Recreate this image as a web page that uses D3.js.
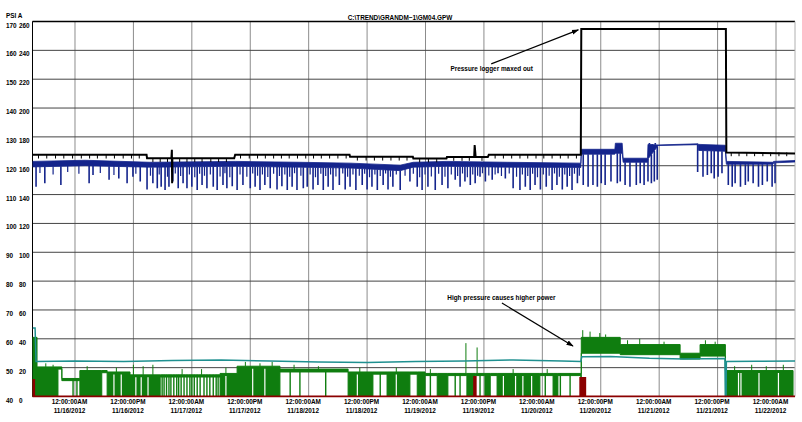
<!DOCTYPE html>
<html><head><meta charset="utf-8">
<script src="https://cdn.jsdelivr.net/npm/d3@7"></script>
<style>
body{margin:0;background:#fff}
svg{display:block}
text{font-family:"Liberation Sans",Arial,sans-serif;font-weight:bold;font-size:6.4px;fill:#000}
</style></head><body>
<svg id="c" width="802" height="422"></svg>
<script>
// ---------- data (time in hours from 11/16/2012 00:00) ----------
const baseDate = new Date(2012, 10, 16, 0, 0, 0);
const xDomainHours = [-8.73, 147.9];
const tickHours = [0, 12, 24, 36, 48, 60, 72, 84, 96, 108, 120, 132, 144];
const leftTicks = [40, 50, 60, 70, 80, 90, 100, 110, 120, 130, 140, 150, 160, 170];
const rightTicks = [0, 20, 40, 60, 80, 100, 120, 140, 160, 180, 200, 220, 240, 260];
const chartTitle = "C:\\TREND\\GRANDM~1\\GM04.GPW";
const axisTitle = "PSI A";

// black pressure (PSI A, left axis)
const blackLine = [[-8.7,123.8],[14.7,123.8],[14.8,122.6],[19.8,122.6],[19.9,125.5],[19.95,113.9],[20.0,122.6],
  [32.7,122.6],[32.9,123.8],[56.4,123.8],[56.5,123.1],[69.4,123.1],[69.5,122.5],[76.3,122.5],[76.4,123.0],
  [82.0,123.0],[82.1,127.2],[82.3,123.0],[84.8,123.0],[85.0,123.8],[103.9,123.8],[104.0,167.4],
  [133.7,167.4],[133.8,124.6],[147.9,124.2]];
const blackTicks = [-7.5,-5.8,-4.0,-2.3,-0.5,1.3,3.0,4.6,6.4,8.1,9.9,11.6,13.2,16.0,17.5,19.0,21.5,23.0,24.6,26.1,27.9,
  29.5,31.1,34.0,35.8,37.5,39.1,40.8,42.4,44.0,45.7,47.4,49.0,50.6,52.3,54.0,55.7,58.0,59.8,61.5,63.2,64.9,66.6,68.2,
  70.8,72.6,74.3,77.8,79.5,81.0,83.6,86.3,88.0,89.7,91.4,93.0,94.7,96.3,98.0,99.7,101.3,103.0,134.8,136.4,138.0,
  139.6,141.3,142.9,144.6,146.2];

// blue pressure band: [hour, high, low] (PSI A, left axis)
const blueBand = [[-8.7,121.5,119.6],[2.1,121.9,120.0],[15.4,121.2,119.5],[32.9,121.5,119.8],[46.2,121.2,119.5],
  [56.5,120.9,119.2],[66.8,120.2,118.3],[69.5,121.2,119.5],[76.4,121.5,119.8],[88.8,121.2,119.5],[103.9,120.9,119.4],
  [104.0,125.7,124.0],[110.9,125.7,124.0],[111.0,127.8,124.3],[112.4,127.8,124.3],[112.6,122.6,121.2],[117.6,122.6,121.2],
  [117.7,127.4,122.3],[119.8,127.2,127.0],[128.0,127.6,127.3],[128.1,127.4,125.3],[133.6,127.1,125.0],
  [133.8,121.5,120.5],[143.4,121.2,120.5],[143.5,121.5,121.0],[147.9,121.8,121.3]];
// blue deep spikes: [hour, extreme value]
const blueSpikes = [[-8.0,112.7],[-6.2,113.9],[-2.9,113.3],[2.9,113.9],[3.7,116.8],[7.0,115.1],[9.0,115.6],[10.7,113.9],
  [11.9,116.2],[13.4,114.5],[14.8,111.8],[16.0,113.9],[16.9,112.2],[17.7,112.7],[18.5,111.6],[19.3,112.7],[20.1,114.5],
  [21.2,112.2],[22.2,113.9],[23.0,112.2],[24.0,112.7],[25.1,111.6],[26.1,113.3],[27.1,112.2],[28.4,112.7],[29.2,111.6],
  [30.4,113.3],[31.2,112.2],[32.3,112.9],[33.3,111.6],[34.5,113.3],[36.0,112.2],[37.0,112.7],[38.0,111.6],[39.0,113.3],
  [40.1,112.2],[41.5,111.8],[42.5,112.9],[43.6,111.6],[44.6,112.7],[45.6,111.6],[46.9,112.2],[47.7,112.7],[48.9,111.8],
  [49.9,113.3],[51.0,111.6],[52.0,112.7],[53.0,111.6],[54.3,113.3],[55.5,111.8],[56.5,112.7],[57.7,111.6],[59.0,113.3],
  [60.0,111.8],[61.0,112.7],[62.1,111.6],[63.3,113.3],[64.3,111.8],[65.3,112.7],[66.8,111.6],[68.8,114.5],[70.3,112.7],
  [71.3,111.6],[72.5,112.7],[74.0,111.6],[75.4,113.3],[76.6,112.2],[78.1,115.1],[79.1,112.7],[80.1,114.5],[81.2,113.3],
  [82.2,113.9],[83.2,116.2],[84.3,114.5],[85.7,115.1],[86.9,117.4],[88.4,115.6],[90.0,112.2],[91.4,111.6],[92.5,112.7],
  [93.5,111.6],[94.5,113.3],[95.6,111.8],[96.8,112.7],[98.0,111.6],[99.0,113.3],[100.1,111.8],[101.1,112.7],[102.1,111.6],
  [103.2,113.9],[104.4,113.3],[105.4,112.7],[106.4,113.3],[107.3,112.7],[108.1,113.9],[108.9,113.3],[110.1,114.5],
  [111.4,113.9],[112.0,114.5],[113.0,113.3],[114.0,112.7],[115.3,113.3],[116.1,113.9],[116.9,113.3],[117.7,114.5],
  [118.0,127.9],[118.4,113.9],[118.6,127.5],[119.0,114.5],[119.2,127.9],[119.6,115.1],[127.9,117.8],[129.0,116.2],
  [129.9,116.8],[130.7,117.4],[131.3,115.6],[132.1,116.2],[132.9,117.4],[134.2,113.3],[135.0,112.7],[135.6,113.9],
  [136.7,112.7],[137.7,113.3],[138.3,114.5],[139.3,113.9],[140.4,112.7],[141.2,113.3],[142.2,114.5],[143.2,112.7],[143.8,113.9]];
// blue shorter dips between the deep ones
const blueMinorSpikes = [[-7.2,117.5],[-4.5,117.0],[-1.5,117.8],[0.8,117.2],[5.2,117.5],[8.0,116.8],[12.5,117.2],[15.5,116.5],
  [17.3,117.0],[19.0,116.2],[20.6,117.3],[21.7,116.4],[23.5,117.0],[24.6,116.0],[25.6,117.2],[26.6,116.5],[27.8,117.0],
  [29.8,116.3],[30.8,117.4],[31.8,116.0],[33.9,117.0],[35.3,116.2],[36.5,117.3],[37.5,116.5],[38.5,117.0],[39.6,116.1],
  [40.8,117.2],[42.0,116.4],[43.1,117.0],[44.1,116.2],[45.1,117.4],[46.4,116.5],[48.3,117.0],[49.4,116.0],[50.5,117.2],
  [51.5,116.4],[52.5,117.0],[53.6,116.3],[55.0,117.3],[56.0,116.2],[57.1,117.0],[58.4,116.5],[59.5,117.2],[60.5,116.0],
  [61.6,117.0],[62.7,116.4],[63.8,117.3],[64.8,116.2],[66.0,117.0],[67.8,116.5],[69.5,117.2],[70.8,116.0],[71.9,117.0],
  [73.2,116.3],[74.7,117.2],[76.0,116.2],[77.3,117.0],[78.6,116.4],[79.6,117.3],[80.6,116.0],[81.7,117.0],[82.7,116.5],
  [83.7,117.4],[85.0,116.6],[86.3,117.0],[87.6,116.4],[89.2,117.3],[90.7,116.2],[91.9,117.0],[93.0,116.4],[94.0,117.2],
  [95.0,116.0],[96.2,117.0],[97.4,116.5],[98.5,117.3],[99.5,116.2],[100.6,117.0],[101.6,116.4],[102.6,117.2],[103.6,116.5]];

// teal (right axis)
const tealLine = [[-8.7,47.5],[-8.2,47.5],[-8.0,24.2],[0,24.6],[10,24.2],[20,25.0],[30,25.3],[40,24.6],[50,24.0],
  [60,23.5],[70,24.2],[80,24.6],[90,25.3],[100,24.6],[103.9,24.2],[104.1,27.5],[110,27.8],[118,26.5],[125,26.0],
  [133.5,26.3],[133.6,0],[133.75,0],[133.8,24.2],[140,24.4],[147.9,24.6]];

// green power band: [hour, high, low] step segments (right axis)
const greenBand = [[-8.7,41,0],[-7.8,20.5,0],[-3.5,20.5,19],[-2.7,12.5,11],[1.0,18,0],[5.5,18,16.5],[6.6,17,0],
  [11.3,15,0],[17.5,15,13.5],[29.8,16,0],[33.3,21,0],[42.1,19,17],[56.1,17,0],[61.2,17,15.5],[64.1,17,0],
  [68.8,17,15.5],[70.3,17,0],[71.9,16,14.5],[74.4,16,0],[76.6,16,14.5],[80.5,16,0],[82.2,16,14.5],[84.2,16,0],
  [85.3,16,14.5],[86.7,16,0],[95.5,16,14.5],[98.2,16,0],[99.2,16,14.5],[103.9,16,0],[104.0,41,30],[112.0,36,29],
  [124.3,30,26],[128.4,36,28],[133.6,18,0],[147.5,18,0]];
const greenDrops = [-0.4,0.4,17.9,18.3,18.8,19.3,19.7,20.3,20.9,21.3,21.8,22.4,23.0,23.6,24.0,24.5,25.1,25.7,26.5,27.1,
  27.7,28.4,29.0,29.4,44.2,46.2,51.5,62.7,73.0,78.1,79.1,83.2,96.6,99.7,101.7];
const greenGaps = [8.0,9.5,12.5,13.6,15.0,31.0,36.5,39.0,58.0,66.0,88.0,90.5,92.0,93.8,136.3,136.8,140.5,144.5];
const greenPeaks = [[-6.0,23],[-4.5,22],[2.5,21],[8.5,20],[12.0,22],[14.0,21],[16.0,22],[22.0,19],[26.0,19],[31.0,20],
  [35.0,24],[38.0,23],[40.5,24],[45.0,22],[50.0,21],[58.5,20],[66.0,20],[73.0,19],[80.3,37],[82.6,34],[90.0,19],
  [97.0,19],[104.3,46],[105.8,45],[107.8,44],[109.0,43],[113.5,39],[116.0,40],[121.0,38],[129.5,39],[131.5,38],
  [135.5,21],[139.0,22],[142.0,21],[145.5,22]];

// dark red (right axis), step segments
const redSteps = [[-8.7,11.5],[-8.4,0],[82.0,13.5],[82.3,0],[103.8,12.9],[104.8,0],[147.9,0]];

// annotations: [hour, value]
const annoPressure = {text:"Pressure logger maxed out", label:[85.6,152.8], tail:[85.5,155.3], tip:[103.4,167.1]};
const annoPower = {text:"High pressure causes higher power", label:[87.6,66.9], tail:[87.7,64.8], tip:[102.3,35.0]};

// ---------- drawing ----------
const hr = h => new Date(baseDate.getTime() + h * 3600e3);
const L = 32.5, R = 795, T = 21.5, B = 396.5;
const x = d3.scaleTime().domain(xDomainHours.map(hr)).range([L, R]);
const yL = d3.scaleLinear().domain([40, 170]).range([B, T]);
const yR = d3.scaleLinear().domain([0, 260]).range([B, T]);
const X = h => x(hr(h));

const svg = d3.select("#c");
svg.append("rect").attr("width", 802).attr("height", 422).attr("fill", "#fff");

const defs = svg.append("defs");
defs.append("marker").attr("id","arr").attr("viewBox","0 0 10 10").attr("refX",9).attr("refY",5)
  .attr("markerWidth",6).attr("markerHeight",6).attr("orient","auto")
  .append("path").attr("d","M0,1.5L10,5L0,8.5z").attr("fill","#000");
defs.append("clipPath").attr("id","plot").append("rect").attr("x",L).attr("y",T-1).attr("width",R-L).attr("height",B-T+2);

// grid
const g = svg.append("g");
g.selectAll("line.v").data(tickHours).join("line").attr("class","v")
  .attr("x1", d => X(d)).attr("x2", d => X(d)).attr("y1", T).attr("y2", B)
  .attr("stroke", "#8c8c8c").attr("stroke-width", 1);
g.selectAll("line.h").data(leftTicks).join("line").attr("class","h")
  .attr("x1", L).attr("x2", R).attr("y1", d => yL(d)).attr("y2", d => yL(d))
  .attr("stroke", "#444").attr("stroke-width", 1);
g.append("line").attr("x1",L).attr("x2",R).attr("y1",T).attr("y2",T).attr("stroke","#000").attr("stroke-width",1.5);
g.append("line").attr("x1",L).attr("x2",L).attr("y1",T).attr("y2",B).attr("stroke","#000").attr("stroke-width",1);
g.append("line").attr("x1",R).attr("x2",R).attr("y1",T).attr("y2",B).attr("stroke","#b0b0b0").attr("stroke-width",1);

// y labels
svg.selectAll("text.yl").data(leftTicks).join("text").attr("class","yl")
  .attr("x", 6).attr("y", d => yL(d) + 6).text(d => d);
svg.selectAll("text.yr").data(rightTicks).join("text").attr("class","yr")
  .attr("x", 19).attr("y", d => yR(d) + 6).text(d => d);
svg.append("text").attr("x", 6).attr("y", 18).text(axisTitle);
svg.append("text").attr("x", 400).attr("y", 20).attr("text-anchor","middle").text(chartTitle);

// x labels
const fT = d3.timeFormat("%I:%M:%S%p"), fD = d3.timeFormat("%m/%d/%Y");
svg.selectAll("text.xl1").data(tickHours).join("text").attr("class","xl1").attr("text-anchor","middle")
  .attr("x", d => X(d) - 5.5).attr("y", 403.5).text(d => fT(hr(d)));
svg.selectAll("text.xl2").data(tickHours).join("text").attr("class","xl2").attr("text-anchor","middle")
  .attr("x", d => X(d) - 5.5).attr("y", 412.5).text(d => fD(hr(d)));

const plot = svg.append("g").attr("clip-path","url(#plot)");

// green
const greenCol = "#0f7d0f";
const topAt = (arr, h) => { const i = Math.max(0, d3.bisector(d => d[0]).right(arr, h) - 1); return arr[i]; };
plot.append("path").datum(greenBand)
  .attr("d", d3.area().curve(d3.curveStepAfter).x(d => X(d[0])).y0(d => yR(d[2])).y1(d => yR(d[1])))
  .attr("fill", greenCol).attr("stroke", greenCol).attr("stroke-width", 1);
plot.selectAll("line.gg").data(greenGaps).join("line").attr("class","gg")
  .attr("x1", d => X(d)).attr("x2", d => X(d)).attr("y1", d => yR(topAt(greenBand, d)[1]) + 2.5).attr("y2", B)
  .attr("stroke", "#fff").attr("stroke-width", 1.2);
plot.selectAll("line.gd").data(greenDrops).join("line").attr("class","gd")
  .attr("x1", d => X(d)).attr("x2", d => X(d)).attr("y1", d => yR(topAt(greenBand, d)[1])).attr("y2", B)
  .attr("stroke", greenCol).attr("stroke-width", 1.4);
plot.selectAll("line.gp").data(greenPeaks).join("line").attr("class","gp")
  .attr("x1", d => X(d[0])).attr("x2", d => X(d[0])).attr("y1", d => yR(topAt(greenBand, d[0])[1])).attr("y2", d => yR(d[1]))
  .attr("stroke", greenCol).attr("stroke-width", 1);

// teal
plot.append("path").datum(tealLine)
  .attr("d", d3.line().x(d => X(d[0])).y(d => yR(d[1])))
  .attr("fill","none").attr("stroke","#1f9090").attr("stroke-width",1.5);

// red
plot.append("path").datum(redSteps)
  .attr("d", d3.area().curve(d3.curveStepAfter).x(d => X(d[0])).y0(yR(0)).y1(d => yR(d[1])))
  .attr("fill","#8b0000").attr("stroke","#8b0000").attr("stroke-width",2);

// blue
const blueCol = "#14248c";
plot.append("path").datum(blueBand)
  .attr("d", d3.area().x(d => X(d[0])).y0(d => yL(d[2])).y1(d => yL(d[1])))
  .attr("fill", blueCol).attr("stroke", blueCol).attr("stroke-width", 0.8);
const bandAt = h => {
  const i = d3.bisector(d => d[0]).right(blueBand, h);
  const a = blueBand[Math.max(0, i - 1)], b = blueBand[Math.min(blueBand.length - 1, i)];
  const k = b[0] === a[0] ? 0 : (h - a[0]) / (b[0] - a[0]);
  return [a[1] + (b[1] - a[1]) * k, a[2] + (b[2] - a[2]) * k];
};
const spikeY1 = d => { const b = bandAt(d[0]); return yL(d[1] < b[1] ? b[1] : b[0]); };
plot.selectAll("line.bm").data(blueMinorSpikes).join("line").attr("class","bm")
  .attr("x1", d => X(d[0])).attr("x2", d => X(d[0])).attr("y1", spikeY1).attr("y2", d => yL(d[1]))
  .attr("stroke", blueCol).attr("stroke-width", 1.2);
plot.selectAll("line.bs").data(blueSpikes).join("line").attr("class","bs")
  .attr("x1", d => X(d[0])).attr("x2", d => X(d[0])).attr("y1", spikeY1).attr("y2", d => yL(d[1]))
  .attr("stroke", blueCol).attr("stroke-width", 1.6);

// black
const blackAt = h => topAt(blackLine, h)[1];
plot.append("path").datum(blackLine)
  .attr("d", d3.line().x(d => X(d[0])).y(d => yL(d[1])))
  .attr("fill","none").attr("stroke","#000").attr("stroke-width",2);
plot.selectAll("line.bt").data(blackTicks).join("line").attr("class","bt")
  .attr("x1", d => X(d)).attr("x2", d => X(d)).attr("y1", d => yL(blackAt(d))).attr("y2", d => yL(blackAt(d) - 1.3))
  .attr("stroke", "#000").attr("stroke-width", 1);

// annotations
function anno(a, yS) {
  svg.append("text").attr("x", X(a.label[0])).attr("y", yS(a.label[1])).attr("text-anchor","middle").text(a.text);
  svg.append("line").attr("x1", X(a.tail[0])).attr("y1", yS(a.tail[1])).attr("x2", X(a.tip[0])).attr("y2", yS(a.tip[1]))
    .attr("stroke","#000").attr("stroke-width",1.2).attr("marker-end","url(#arr)");
}
anno(annoPressure, yL);
anno(annoPower, yR);
</script>
</body></html>
